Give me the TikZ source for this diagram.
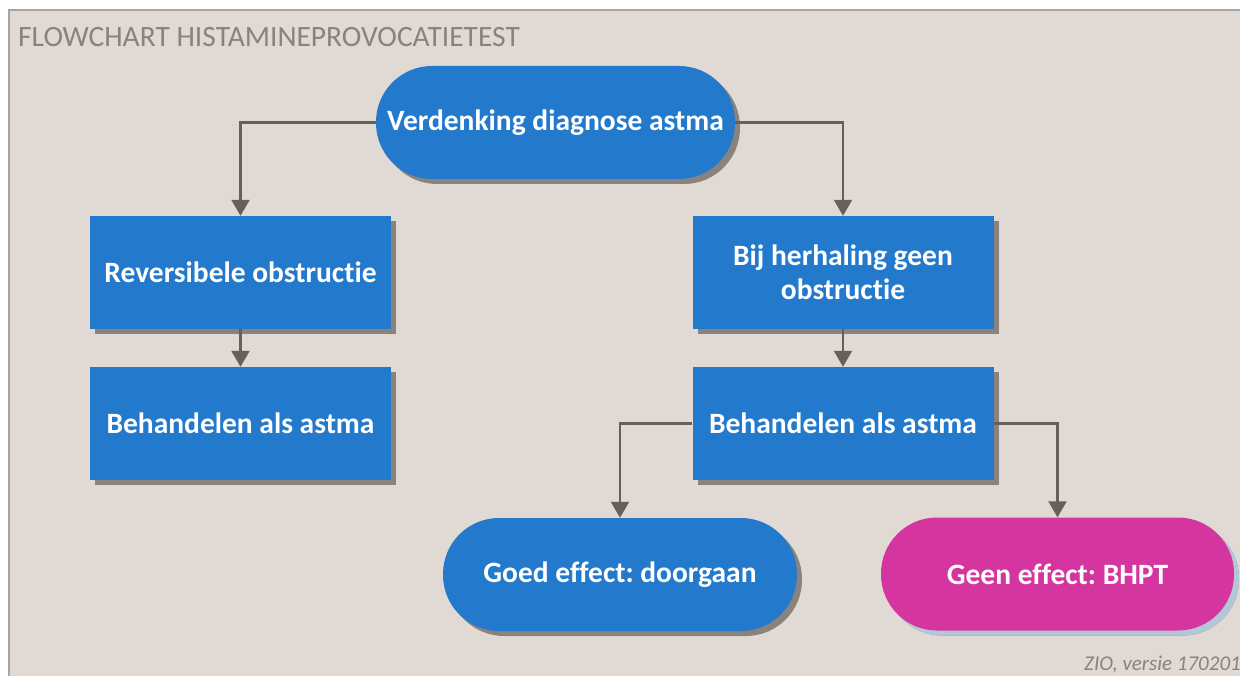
\documentclass[tikz,border=0pt]{standalone}
\usepackage{fontspec}
\setmainfont{Carlito}[Ligatures=NoCommon]
\frenchspacing
\usetikzlibrary{arrows.meta,shadows}
\definecolor{bg}{HTML}{E1D9D3}
\definecolor{frame}{HTML}{ABA39F}
\definecolor{nblue}{HTML}{237ACC}
\definecolor{nmag}{HTML}{D4359E}
\definecolor{shgray}{HTML}{8A827D}
\definecolor{shblue}{HTML}{B3C7D9}
\definecolor{conncol}{HTML}{675F5D}
\definecolor{titlecol}{HTML}{8A8280}
\tikzset{
  base/.style={text=white,font=\bfseries\fontsize{29.5}{34.5}\selectfont,align=center,inner sep=0pt},
  procbox/.style={base,fill=nblue,minimum width=301pt,minimum height=113pt,
    drop shadow={shadow xshift=5pt,shadow yshift=-5pt,fill=shgray,opacity=1}},
  termbox/.style={base,fill=nblue,rounded corners=56pt,minimum height=113pt,
    drop shadow={shadow xshift=5pt,shadow yshift=-5pt,fill=shgray,opacity=1}},
  conn/.style={draw=conncol,line width=2.2pt,-{Triangle[width=18pt,length=16pt]}},
}
\begin{document}
\begin{tikzpicture}[x=1pt,y=1pt]
\useasboundingbox (0,0) rectangle (1240,-676);
\fill[white] (0,0) rectangle (1240,-676);
\draw[frame,fill=bg,line width=1.5pt] (9,-10) -- (1250,-10) -- (1250,-690) -- (9,-690) -- cycle;
\node[anchor=base west,text=titlecol,font=\fontsize{29.5}{34}\selectfont,inner sep=0pt] (title) at (18,-47) {FLOWCHART HISTAMINEPROVOCATIETEST};
\node[anchor=base east,text=titlecol,font=\itshape\fontsize{21}{24}\selectfont,inner sep=0pt] (foot) at (1241,-670) {ZIO, versie 170201};

\node[termbox,minimum width=359pt] (top) at (555.5,-122.5) {Verdenking diagnose astma};
\node[procbox] (l1) at (240.5,-272.5) {Reversibele obstructie};
\node[procbox] (l2) at (240.5,-423.5) {Behandelen als astma};
\node[procbox] (r1) at (843,-272.5) {Bij herhaling geen\\obstructie};
\node[procbox] (r2) at (843,-423.5) {Behandelen als astma};
\node[termbox,minimum width=354pt] (goed) at (620,-574.5) {Goed effect: doorgaan};
\node[termbox,minimum width=353pt,fill=nmag,drop shadow={shadow xshift=5pt,shadow yshift=-5pt,fill=shblue,opacity=1}] (geen) at (1057.5,-574) {Geen effect: BHPT};

\draw[conn] (top.west) -| (l1.north);
\draw[conn] (top.east) -| (r1.north);
\draw[conn] (l1.south) -- (l2.north);
\draw[conn] (r1.south) -- (r2.north);
\draw[conn] (r2.west) -| (goed.north);
\draw[conn] (r2.east) -| (geen.north);
\end{tikzpicture}
\end{document}
